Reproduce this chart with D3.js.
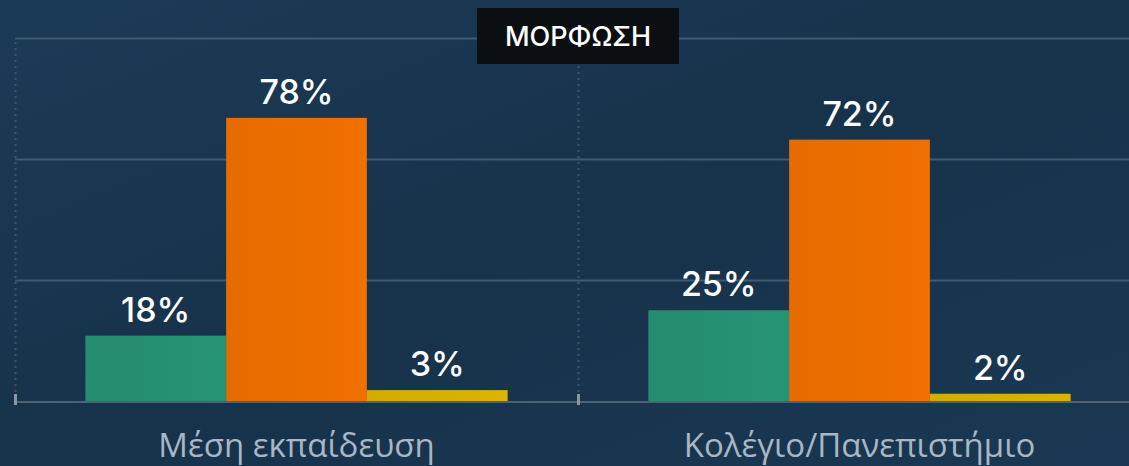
<!DOCTYPE html>
<html>
<head>
<meta charset="utf-8">
<script src="https://cdn.jsdelivr.net/npm/d3@7"></script>
<style>
  html, body { margin: 0; padding: 0; background: #183550; }
  svg { display: block; }
</style>
</head>
<body>
<svg id="chart"></svg>
<script>
// data
var categories = ['Μέση εκπαίδευση', 'Κολέγιο/Πανεπιστήμιο'];
var seriesNames = ['a', 'b', 'c'];
var seriesColors = ['#279375', '#f07000', '#dcb300'];
var values = [
    [18, 78, 3],
    [25, 72, 2]
];
var gridTicks = [0, 100 / 3, 200 / 3, 100];
var title = 'ΜΟΡΦΩΣΗ';

var width = 1129,
    height = 466,
    margin = { top: 38, left: 15, right: -12, bottom: 65 };

var svg = d3.select('#chart')
    .attr('width', width)
    .attr('height', height);

// background gradient
var defs = svg.append('defs');
var bg = defs.append('linearGradient')
    .attr('id', 'bg')
    .attr('x1', '0%').attr('y1', '0%')
    .attr('x2', '100%').attr('y2', '100%');
bg.append('stop').attr('offset', '0%').attr('stop-color', '#1c3b56');
bg.append('stop').attr('offset', '50%').attr('stop-color', '#17324b');
bg.append('stop').attr('offset', '100%').attr('stop-color', '#1a3853');

// slight shading on bars
seriesColors.forEach(function (c, i) {
    var g = defs.append('linearGradient')
        .attr('id', 'bar' + i)
        .attr('x1', '0%').attr('x2', '100%');
    g.append('stop').attr('offset', '0%').attr('stop-color', d3.color(c).darker(0.12));
    g.append('stop').attr('offset', '100%').attr('stop-color', c);
});

svg.append('rect')
    .attr('width', width)
    .attr('height', height)
    .attr('fill', 'url(#bg)');

var x0 = d3.scaleBand()
    .domain(categories)
    .range([margin.left, width - margin.right]);

var x1 = d3.scaleBand()
    .domain(seriesNames)
    .range([0, x0.bandwidth()])
    .paddingOuter(0.5);

var y = d3.scaleLinear()
    .domain([0, 100])
    .range([height - margin.bottom, margin.top]);

// grid lines
svg.append('g')
    .selectAll('line')
    .data(gridTicks.slice(1))
    .enter()
    .append('line')
    .attr('x1', margin.left)
    .attr('x2', width)
    .attr('y1', function (d) { return Math.round(y(d)) + 0.5; })
    .attr('y2', function (d) { return Math.round(y(d)) + 0.5; })
    .attr('stroke', '#3e5b74')
    .attr('stroke-width', 2);

// dotted separators at group edges
svg.append('g')
    .selectAll('line')
    .data(categories)
    .enter()
    .append('line')
    .attr('x1', function (d) { return x0(d) + 0.5; })
    .attr('x2', function (d) { return x0(d) + 0.5; })
    .attr('y1', y(100) + 4)
    .attr('y2', y(0) - 4)
    .attr('stroke', '#3a5670')
    .attr('stroke-width', 2)
    .attr('stroke-dasharray', '2,4');

// bars
var groups = svg.append('g')
    .selectAll('g')
    .data(values)
    .enter()
    .append('g')
    .attr('transform', function (d, i) {
        return 'translate(' + x0(categories[i]) + ',0)';
    });

groups.selectAll('rect')
    .data(function (d) { return d; })
    .enter()
    .append('rect')
    .attr('x', function (d, i) { return x1(seriesNames[i]); })
    .attr('width', x1.bandwidth())
    .attr('y', function (d) { return y(d); })
    .attr('height', function (d) { return y(0) - y(d); })
    .attr('fill', function (d, i) { return 'url(#bar' + i + ')'; });

groups.selectAll('text')
    .data(function (d) { return d; })
    .enter()
    .append('text')
    .attr('x', function (d, i) { return x1(seriesNames[i]) + x1.bandwidth() / 2; })
    .attr('y', function (d) { return y(d) - 14; })
    .attr('text-anchor', 'middle')
    .attr('fill', '#ffffff')
    .attr('font-family', 'Inter, "Open Sans", sans-serif')
    .attr('font-weight', 500)
    .attr('font-size', 34)
    .text(function (d) { return d + '%'; });

// baseline
svg.append('line')
    .attr('x1', margin.left)
    .attr('x2', width)
    .attr('y1', y(0) + 1)
    .attr('y2', y(0) + 1)
    .attr('stroke', '#4a6379')
    .attr('stroke-width', 2);

// small tick marks on baseline
svg.append('g')
    .selectAll('rect')
    .data(categories)
    .enter()
    .append('rect')
    .attr('x', function (d) { return x0(d) - 1; })
    .attr('y', y(0) - 7)
    .attr('width', 3)
    .attr('height', 11)
    .attr('fill', '#8a96a2');

// category labels
svg.append('g')
    .selectAll('text')
    .data(categories)
    .enter()
    .append('text')
    .attr('x', function (d) { return x0(d) + x0.bandwidth() / 2; })
    .attr('y', 457)
    .attr('text-anchor', 'middle')
    .attr('fill', '#a8b7c5')
    .attr('font-family', '"Open Sans", sans-serif')
    .attr('font-size', 33)
    .text(function (d) { return d; });

// title box
var tx = x0(categories[1]);
svg.append('rect')
    .attr('x', tx - 101)
    .attr('y', 8)
    .attr('width', 202)
    .attr('height', 56)
    .attr('fill', '#0b0f12');
svg.append('text')
    .attr('x', tx)
    .attr('y', 46)
    .attr('text-anchor', 'middle')
    .attr('fill', '#ffffff')
    .attr('font-family', 'Inter, "Open Sans", sans-serif')
    .attr('font-weight', 500)
    .attr('font-size', 27)
    .text(title);
</script>
</body>
</html>
